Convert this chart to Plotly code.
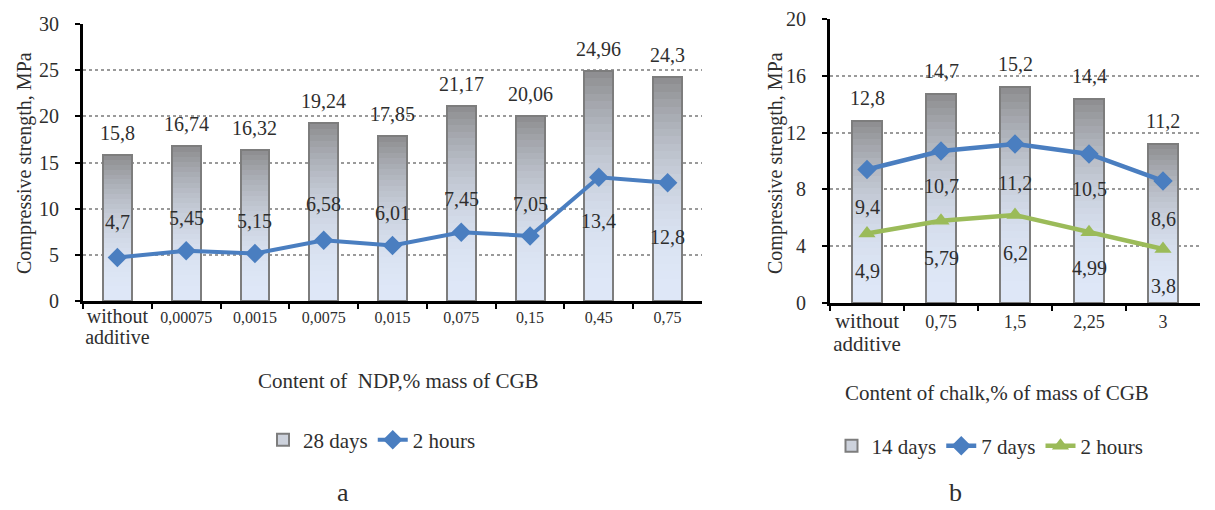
import plotly.graph_objects as go

# ---------------- data ----------------
# chart a
cats_a = ["without<br>additive", "0,00075", "0,0015", "0,0075", "0,015", "0,075", "0,15", "0,45", "0,75"]
days28_a = [15.8, 16.74, 16.32, 19.24, 17.85, 21.17, 20.06, 24.96, 24.3]
hours2_a = [4.7, 5.45, 5.15, 6.58, 6.01, 7.45, 7.05, 13.4, 12.8]
yticks_a = [0, 5, 10, 15, 20, 25, 30]

# chart b
cats_b = ["without<br>additive", "0,75", "1,5", "2,25", "3"]
days14_b = [12.8, 14.7, 15.2, 14.4, 11.2]
days7_b = [9.4, 10.7, 11.2, 10.5, 8.6]
hours2_b = [4.9, 5.79, 6.2, 4.99, 3.8]
yticks_b = [0, 4, 8, 12, 16, 20]

# ---------------- styles ----------------
FONT = "Liberation Serif, Times New Roman, serif"
TXT = "#2e2e2e"
BLUE = "#4a7ec0"
GREEN = "#9bbb59"
TOP = (140, 140, 142)
BOT = (222, 231, 247)
NB = 30  # gradient bands per bar
LBL = 20  # data label font size

# label offsets (pixels) for line labels
shift_a = [36, 33, 32, 36, 33, 33, 32, -44, -54]
shift_b7 = [-37, -35, -39, -35, -38]
shift_b2 = [-38, -37, -38, -36, -37]


def fmt(v):
    return f"{v:g}".replace(".", ",")


def tick_text(c, big):
    if "<br>" in c:
        return "<br>".join(f"<span style='font-size:{big}px'>{p}</span>" for p in c.split("<br>"))
    return c


fig = go.Figure()


def gradient_bars(cats, vals, xa, ya, width, name, legend):
    for k in range(NB):
        t = (k + 0.5) / NB
        f = t ** 2.2
        c = tuple(round(BOT[i] + (TOP[i] - BOT[i]) * f) for i in range(3))
        fig.add_trace(go.Bar(
            x=cats, y=[v / NB * 1.04 for v in vals], base=[v * k / NB for v in vals],
            width=width, marker=dict(color=f"rgb{c}", line=dict(width=0)),
            xaxis=xa, yaxis=ya, showlegend=False, hoverinfo="skip"))
    # outline
    fig.add_trace(go.Bar(
        x=cats, y=vals, width=width,
        marker=dict(color="rgba(0,0,0,0)", line=dict(color="#7d7d7d", width=2)),
        xaxis=xa, yaxis=ya, showlegend=False, name=name))
    # legend entry
    fig.add_trace(go.Bar(
        x=[None], y=[None], name=name,
        marker=dict(color="#cdd2dc", line=dict(color="#7d7d7d", width=2)),
        xaxis=xa, yaxis=ya, legend=legend))


gradient_bars(cats_a, days28_a, "x", "y", 0.42, "28 days", "legend")
fig.add_trace(go.Scatter(
    x=cats_a, y=hours2_a, mode="lines+markers", name="2 hours",
    line=dict(color=BLUE, width=4), marker=dict(symbol="diamond", size=15, color=BLUE),
    xaxis="x", yaxis="y", legend="legend"))

gradient_bars(cats_b, days14_b, "x2", "y2", 0.41, "14 days", "legend2")
fig.add_trace(go.Scatter(
    x=cats_b, y=days7_b, mode="lines+markers", name="7 days",
    line=dict(color=BLUE, width=4.5), marker=dict(symbol="diamond", size=15, color=BLUE),
    xaxis="x2", yaxis="y2", legend="legend2"))
fig.add_trace(go.Scatter(
    x=cats_b, y=hours2_b, mode="lines+markers", name="2 hours",
    line=dict(color=GREEN, width=4.5), marker=dict(symbol="triangle-up", size=15, color=GREEN),
    xaxis="x2", yaxis="y2", legend="legend2"))

ann = []


def add_labels(vals, xa, ya, shifts):
    for i, (v, s) in enumerate(zip(vals, shifts)):
        ann.append(dict(x=i, y=v, xref=xa, yref=ya, text=fmt(v), showarrow=False,
                        yshift=s, yanchor="middle", font=dict(family=FONT, size=LBL, color=TXT)))


add_labels(days28_a, "x", "y", [22] * len(cats_a))
add_labels(hours2_a, "x", "y", shift_a)
add_labels(days14_b, "x2", "y2", [23] * len(cats_b))
add_labels(days7_b, "x2", "y2", shift_b7)
add_labels(hours2_b, "x2", "y2", shift_b2)

W, H = 1215, 510


def px(x):
    return x / W


def py(y):
    return 1 - y / H


texts = [
    ("Compressive strength, MPa", 24, 163, -90, 20),
    ("Compressive strength, MPa", 775, 163, -90, 20),
    ("Content of  NDP,% mass of CGB", 398, 381, 0, 21),
    ("Content of chalk,% of mass of CGB", 997, 393, 0, 21),
    ("a", 343, 492, 0, 26),
    ("b", 955, 492, 0, 26),
]
for t, x, y, ang, sz in texts:
    ann.append(dict(x=px(x), y=py(y), xref="paper", yref="paper", text=t, showarrow=False,
                    textangle=ang, xanchor="center", yanchor="middle",
                    font=dict(family=FONT, size=sz, color=TXT)))

xcommon = dict(type="category", showline=True, linecolor="black", linewidth=3,
               ticks="outside", tickson="boundaries", ticklen=5, tickwidth=2, tickcolor="black",
               showgrid=False, automargin=False, tickangle=0)
ycommon = dict(showline=True, linecolor="black", linewidth=3, ticks="outside", ticklen=5,
               tickwidth=2, tickcolor="black", showgrid=True, gridcolor="#9a9a9a", griddash="dot",
               gridwidth=2, zeroline=False, tickfont=dict(family=FONT, size=20, color=TXT),
               ticklabelstandoff=12, automargin=False)

fig.update_layout(
    width=W, height=H, margin=dict(l=0, r=0, t=0, b=0),
    paper_bgcolor="white", plot_bgcolor="white",
    barmode="overlay", bargap=0,
    xaxis=dict(domain=[px(83), px(702)], anchor="y", range=[-0.5, len(cats_a) - 0.5],
               tickvals=cats_a, ticktext=[tick_text(c, 20) for c in cats_a],
               tickfont=dict(family=FONT, size=16, color=TXT), **xcommon),
    yaxis=dict(domain=[py(301), py(24)], anchor="x", range=[0, 30], tickvals=yticks_a, **ycommon),
    xaxis2=dict(domain=[px(830), px(1200)], anchor="y2", range=[-0.5, len(cats_b) - 0.5],
                tickvals=cats_b, ticktext=[tick_text(c, 21) for c in cats_b],
                tickfont=dict(family=FONT, size=18, color=TXT), **xcommon),
    yaxis2=dict(domain=[py(303), py(19)], anchor="x2", range=[0, 20], tickvals=yticks_b, **ycommon),
    legend=dict(orientation="h", x=px(372), y=py(440), xanchor="center", yanchor="middle",
                font=dict(family=FONT, size=21, color=TXT), bgcolor="rgba(0,0,0,0)"),
    legend2=dict(orientation="h", x=px(990), y=py(446), xanchor="center", yanchor="middle",
                 font=dict(family=FONT, size=21, color=TXT), bgcolor="rgba(0,0,0,0)"),
    annotations=ann,
    showlegend=True,
)

fig.write_html("out.html", post_script="document.body.style.margin='0';",
               config={"displayModeBar": False})
